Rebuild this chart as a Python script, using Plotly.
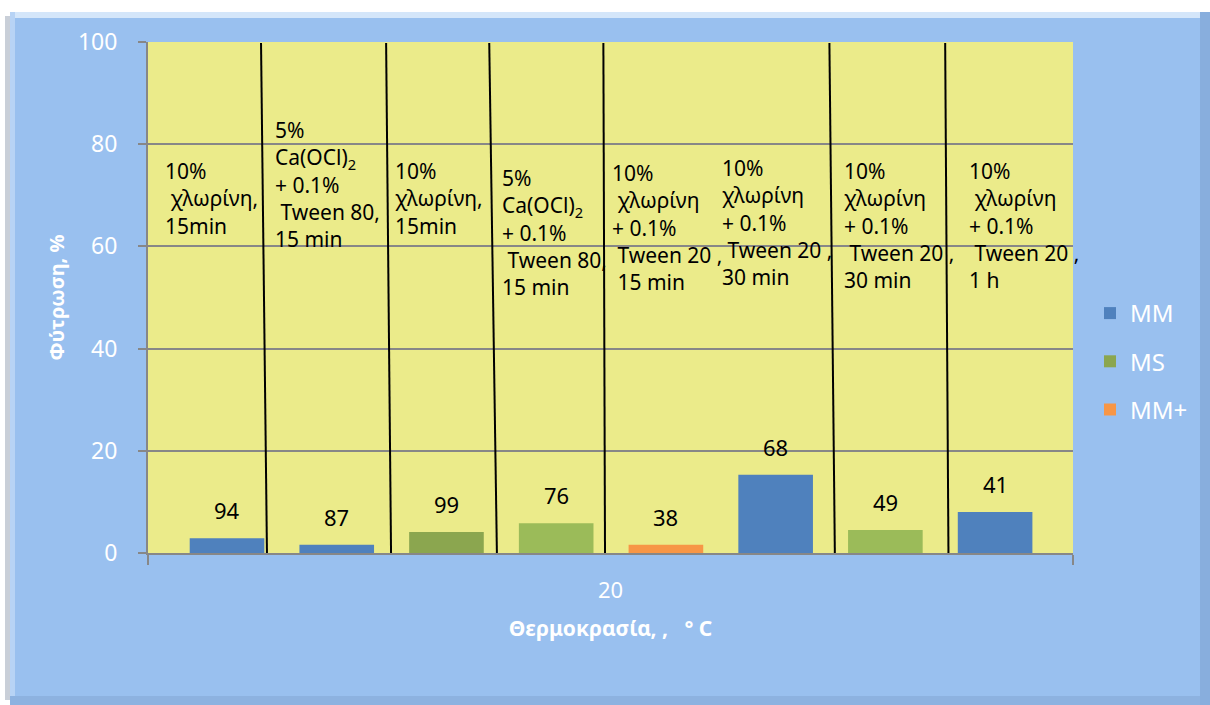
import plotly.graph_objects as go

# ---------------- data ----------------
treatments = [
    "10%<br>\u00a0χλωρίνη,<br>15min",
    "5%<br>Ca(OCl)<sub>2</sub><br>+ 0.1%<br>\u00a0Tween 80,<br>15 min",
    "10%<br>χλωρίνη,<br>15min",
    "5%<br>Ca(OCl)<sub>2</sub><br>+ 0.1%<br>\u00a0Tween 80,<br>15 min",
    "10%<br>\u00a0χλωρίνη<br>+ 0.1%<br>\u00a0Tween 20 ,<br>\u00a015 min",
    "10%<br>χλωρίνη<br>+ 0.1%<br>\u00a0Tween 20 ,<br>30 min",
    "10%<br>χλωρίνη<br>+ 0.1%<br>\u00a0Tween 20 ,<br>30 min",
    "10%<br>\u00a0χλωρίνη<br>+ 0.1%<br>\u00a0Tween 20 ,<br>1 h",
]
bar_values = [2.9, 1.6, 4.1, 5.8, 1.6, 15.3, 4.5, 8.0]
germination_labels = [94, 87, 99, 76, 38, 68, 49, 41]
media = ["MM", "MM", "MS", "MS", "MM+", "MM", "MS", "MM"]
legend_order = ["MM", "MS", "MM+"]
x_tick_label = "20"
y_ticks = [0, 20, 40, 60, 80, 100]

# ---------------- styles ----------------
MEDIUM_COLORS = {"MM": "#4F81BD", "MS": "#8BA64F", "MM+": "#F79646"}
BAR_COLOR_OVERRIDES = {3: "#9BBB59", 6: "#9BBB59"}
FONT = "Noto Sans"
PANEL = "#99C0EF"
PLOT_BG = "#EBEB8A"
GRID = "#878787"

# layout geometry (pixels)
W, H = 1210, 705
L, R, T, B = 148, 1073, 42, 553
X_RANGE = [-0.72, 7.71]


def px_x(px):
    return (px - L) / (R - L)


def px_y(py):
    return (B - py) / (B - T)


fig = go.Figure()

for med in legend_order:
    idx = [i for i, m in enumerate(media) if m == med]
    fig.add_trace(go.Bar(
        x=idx,
        y=[bar_values[i] for i in idx],
        name=med,
        legendgroup=med,
        width=0.68,
        marker=dict(color=[BAR_COLOR_OVERRIDES.get(i, MEDIUM_COLORS[med]) for i in idx],
                    line=dict(width=0)),
        hoverinfo="skip",
    ))

annotations = []
# data labels above bars
for i, (v, lab) in enumerate(zip(bar_values, germination_labels)):
    annotations.append(dict(
        x=i, y=v, xref="x", yref="y", text=str(lab), showarrow=False,
        yanchor="bottom", xanchor="center", yshift=11,
        font=dict(family=FONT, size=22, color="black"),
    ))

# treatment descriptions (decorative text boxes)
text_offsets = [-0.583, -0.581, -0.487, -0.511, -0.51, -0.506, -0.394, -0.254]
text_tops = [155, 114, 155, 162, 157, 152, 155, 155]
for i, (txt, dx, top) in enumerate(zip(treatments, text_offsets, text_tops)):
    annotations.append(dict(
        x=i + dx, y=(B - top) / (B - T) * 100, xref="x", yref="y",
        text=txt, showarrow=False, align="left",
        xanchor="left", yanchor="top",
        font=dict(family=FONT, size=21, color="black"),
    ))

# hand-drawn divider lines (data coords): (x_top, x_bottom, y_bottom)
dividers = [(0.31, 0.365, -1.4), (1.45, 1.495, 0), (2.39, 2.46, -0.4),
            (3.43, 3.445, 0), (5.49, 5.54, -0.6), (6.545, 6.575, 0)]
shapes = []
for xt, xb, yb in dividers:
    shapes.append(dict(type="line", xref="x", yref="y", x0=xt, y0=99.8, x1=xb, y1=yb,
                       line=dict(color="black", width=2), layer="above"))

# panel decoration (white page margin + bevel)
shapes += [
    dict(type="rect", xref="paper", yref="paper", x0=px_x(-5), x1=px_x(W + 5),
         y0=px_y(12), y1=px_y(-5), fillcolor="white", line=dict(width=0), layer="below"),
    dict(type="rect", xref="paper", yref="paper", x0=px_x(-5), x1=px_x(10),
         y0=px_y(W), y1=px_y(-5), fillcolor="white", line=dict(width=0), layer="below"),
    dict(type="rect", xref="paper", yref="paper", x0=px_x(5), x1=px_x(10),
         y0=px_y(700), y1=px_y(16), fillcolor="#C9CFD8", line=dict(width=0), layer="below"),
    dict(type="rect", xref="paper", yref="paper", x0=px_x(10), x1=px_x(1205),
         y0=px_y(18), y1=px_y(12), fillcolor="#D4E6FA", line=dict(width=0), layer="below"),
    dict(type="rect", xref="paper", yref="paper", x0=px_x(10), x1=px_x(15),
         y0=px_y(700), y1=px_y(12), fillcolor="#B7D3F5", line=dict(width=0), layer="below"),
    dict(type="rect", xref="paper", yref="paper", x0=px_x(1200), x1=px_x(W + 5),
         y0=px_y(W), y1=px_y(12), fillcolor="#88AEDD", line=dict(width=0), layer="below"),
    dict(type="rect", xref="paper", yref="paper", x0=px_x(10), x1=px_x(1200),
         y0=px_y(W), y1=px_y(696), fillcolor="#8DB2E0", line=dict(width=0), layer="below"),
]

fig.update_layout(
    width=W, height=H,
    margin=dict(l=L, r=W - R, t=T, b=H - B, autoexpand=False),
    paper_bgcolor=PANEL,
    plot_bgcolor=PLOT_BG,
    barmode="overlay",
    font=dict(family=FONT, color="white", size=21),
    showlegend=True,
    legend=dict(
        x=px_x(1090), y=px_y(291), xanchor="left", yanchor="top",
        bgcolor="rgba(0,0,0,0)", font=dict(family=FONT, size=24, color="white"),
        tracegroupgap=14, itemwidth=30,
    ),
    annotations=annotations,
    shapes=shapes,
    xaxis=dict(
        range=X_RANGE, tickvals=[(X_RANGE[0] + X_RANGE[1]) / 2], ticktext=[x_tick_label],
        ticks="", showgrid=False, zeroline=False,
        showline=True, linecolor=GRID, linewidth=2,
        minor=dict(tickvals=X_RANGE, ticks="outside", ticklen=10, tickcolor=GRID, tickwidth=2),
        tickfont=dict(family=FONT, size=22, color="white"),
        ticklabelstandoff=17,
        title=dict(text="<b>Θερμοκρασία, ,  \u00a0° C</b>",
                   font=dict(family=FONT, size=21, color="white"),
                   standoff=18),
        fixedrange=True,
    ),
    yaxis=dict(
        range=[0, 100], tickvals=y_ticks, showgrid=True, gridcolor=GRID, gridwidth=2,
        zeroline=False, showline=True, linecolor=GRID, linewidth=2,
        ticks="outside", ticklen=8, tickcolor=GRID, tickwidth=2,
        tickfont=dict(family=FONT, size=23, color="white"),
        ticklabelstandoff=16,
        title=dict(text="<b>Φύτρωση, %</b>", font=dict(family=FONT, size=20, color="white"),
                   standoff=8),
        fixedrange=True,
    ),
)

fig.write_html("out.html", post_script="document.body.style.margin='0';",
               config={"displayModeBar": False})
